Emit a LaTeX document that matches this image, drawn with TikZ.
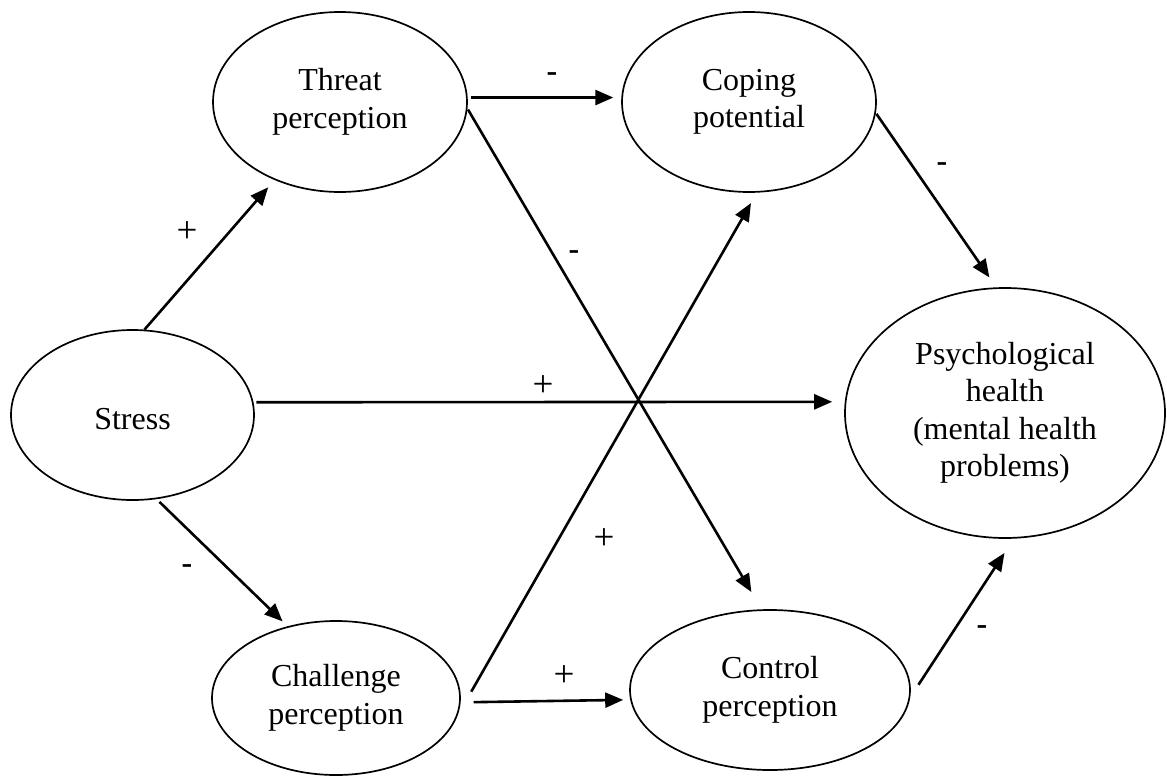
\documentclass[tikz,border=0pt]{standalone}
\usepackage{fontspec}
\setmainfont{Liberation Serif}
\usetikzlibrary{shapes.geometric,arrows.meta}

\begin{document}
\begin{tikzpicture}[x=1pt,y=-1pt,
  construct/.style={draw,ellipse,line width=1.7pt,inner sep=0pt,align=center,font=\fontsize{32}{37.5}\selectfont},
  link/.style={line width=2.6pt,-{Triangle[length=18pt,width=15pt]}},
  sign/.style={inner sep=0pt,font=\fontsize{37}{37.5}\selectfont},
  minus/.style={sign,font=\fontsize{32}{37.5}\selectfont\bfseries}]
\useasboundingbox (0,0) rectangle (1167,776);

% constructs
\node[construct,minimum width=243pt,minimum height=170pt,text height=30pt] (stress) at (132.5,415) {Stress};
\node[construct,minimum width=254pt,minimum height=180pt] (threat) at (340,102) {Threat\\perception};
\node[construct,minimum width=248pt,minimum height=154pt] (challenge) at (336,698) {Challenge\\perception};
\node[construct,minimum width=254pt,minimum height=180pt] (coping) at (749,102) {Coping\\potential};
\node[construct,minimum width=280pt,minimum height=160pt] (control) at (770,690) {Control\\perception};
\node[construct,minimum width=320pt,minimum height=250pt] (psych) at (1005,413) {Psychological\\health\\(mental health\\problems)};

% paths
\draw[link,shorten >=9.6pt] (stress.82.6) -- (threat.230);
\draw[link,shorten <=4pt,shorten >=7pt] (stress.286.5) -- (challenge.124);
\draw[link,shorten <=3pt,shorten >=12.6pt] (stress.6.2) -- (psych.176.1);
\draw[link,shorten <=3pt,shorten >=8pt] (threat.2) -- (coping.178);
\draw[link,shorten <=1pt,shorten >=20pt] (threat.357.3) -- (control.96.4);
\draw[link,shorten <=27pt,shorten >=12pt] (challenge.352.6) -- (coping.275);
\draw[link,shorten <=13pt,shorten >=7pt] (challenge.358.6) -- (control.184.5);
\draw[link,shorten <=1pt,shorten >=12pt] (coping.355) -- (psych.94.2);
\draw[link,shorten <=15pt,shorten >=17pt] (control.357.3) -- (psych.274.8);

% signs
\node[sign] (s-st-th) at (187,232) {+};
\node[minus] (s-st-ch) at (187,569) {-};
\node[sign] (s-st-ps) at (543,386) {+};
\node[minus] (s-th-co) at (552,77) {-};
\node[minus] (s-th-cn) at (574,255) {-};
\node[sign] (s-ch-co) at (604,539) {+};
\node[sign] (s-ch-cn) at (564,676) {+};
\node[minus] (s-co-ps) at (942,167) {-};
\node[minus] (s-cn-ps) at (982,630) {-};
\end{tikzpicture}
\end{document}
